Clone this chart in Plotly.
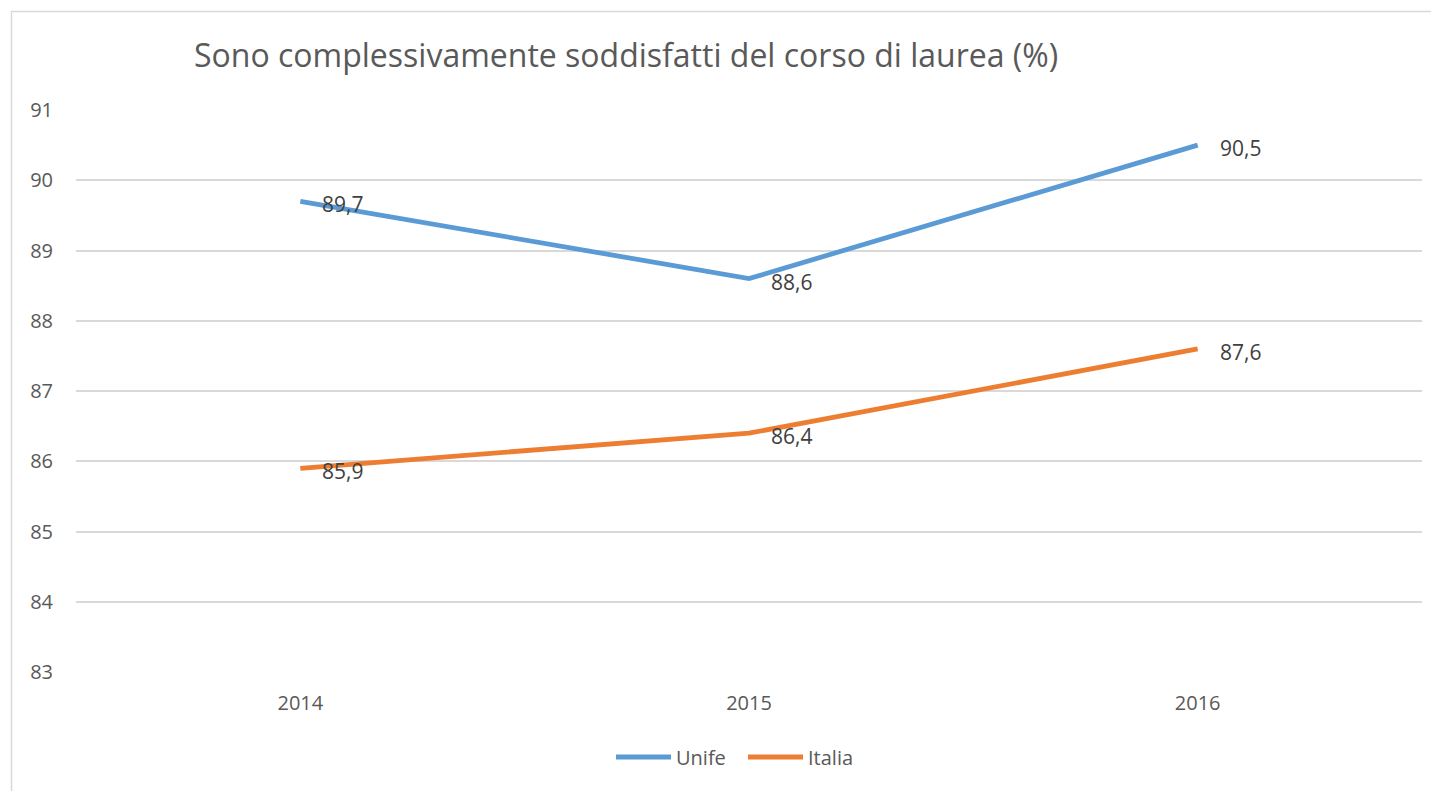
import plotly.graph_objects as go

years = ["2014", "2015", "2016"]
series_names = ["Unife", "Italia"]
unife = [89.7, 88.6, 90.5]
italia = [85.9, 86.4, 87.6]
y_ticks = [83, 84, 85, 86, 87, 88, 89, 90, 91]
title = "Sono complessivamente soddisfatti del corso di laurea (%)"
colors = ["#5B9BD5", "#ED7D31"]

FONT = "Open Sans"
xpos = list(range(len(years)))

OFF = 8  # page body margin
PL, PR_EDGE, PT, PB_EDGE = 76, 1422, 110, 672
W = 1439 - OFF
H = 791 - OFF
pl = PL - OFF
pt = PT - OFF
pw = PR_EDGE - PL
ph = PB_EDGE - PT
pr = W - pl - pw
pb = H - pt - ph


def px_x(x):
    return (x - PL) / pw


def px_y(y):
    return 1 - (y - PT) / ph


fig = go.Figure()
for name, vals, col in zip(series_names, (unife, italia), colors):
    fig.add_trace(go.Scatter(x=xpos, y=vals, mode="lines", name=name,
                             line=dict(color=col, width=4.8), showlegend=False))

anns = []
for vals in (unife, italia):
    for xv, yv in zip(xpos, vals):
        anns.append(dict(x=xv, y=yv, xref="x", yref="y",
                         text=f"{yv:.1f}".replace(".", ","),
                         showarrow=False, xanchor="left", yanchor="middle",
                         xshift=20, yshift=-3,
                         font=dict(family=FONT, size=21, color="#404040")))
anns.append(dict(x=px_x(626), y=px_y(54), xref="paper", yref="paper", text=title,
                 showarrow=False, xanchor="center", yanchor="middle",
                 font=dict(family=FONT, size=32, color="#595959")))

# manual legend (long line keys like the original)
shapes = [dict(type="rect", xref="paper", yref="paper",
               x0=px_x(11.5), x1=1.2, y0=-0.5, y1=px_y(11.5),
               line=dict(color="#d9d9d9", width=1.5), fillcolor="rgba(0,0,0,0)",
               layer="below")]
leg_starts = [616, 748]
for name, col, x0 in zip(series_names, colors, leg_starts):
    shapes.append(dict(type="line", xref="paper", yref="paper",
                       x0=px_x(x0), x1=px_x(x0 + 55), y0=px_y(757), y1=px_y(757),
                       line=dict(color=col, width=5)))
    anns.append(dict(x=px_x(x0 + 58), y=px_y(757), xref="paper", yref="paper",
                     text=name, showarrow=False, xanchor="left", yanchor="middle",
                     font=dict(family=FONT, size=20, color="#595959")))

fig.update_layout(
    width=W, height=H,
    margin=dict(l=pl, r=pr, t=pt, b=pb),
    paper_bgcolor="white", plot_bgcolor="white",
    separators=",.",
    annotations=anns,
    shapes=shapes,
    showlegend=False,
    xaxis=dict(range=[-0.5, 2.5], tickvals=xpos, ticktext=years,
               showgrid=False, zeroline=False, showline=False,
               tickfont=dict(family=FONT, size=20, color="#595959"),
               ticks="", ticklabelstandoff=17),
    yaxis=dict(range=[83, 91], tickvals=y_ticks, showgrid=True,
               gridcolor="#d9d9d9", gridwidth=1.8, zeroline=False, showline=False,
               tickfont=dict(family=FONT, size=20, color="#595959"),
               ticks="", ticklabelstandoff=22),
)

fig.write_html("out.html")
